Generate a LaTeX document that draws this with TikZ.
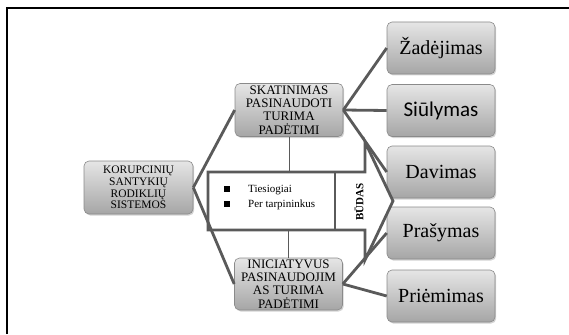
\documentclass[tikz,border=0pt]{standalone}
\usepackage{fontspec}
\setmainfont{Liberation Serif}
\newfontfamily\carl{Carlito}
\usetikzlibrary{shadows}
\definecolor{ln}{HTML}{5A5A5A}
\definecolor{bx}{HTML}{8A8A8A}
\begin{document}
\begin{tikzpicture}[x=1pt,y=-1pt,
  gbox/.style={draw=bx, line width=0.6pt, rounded corners=5pt,
    top color=black!10, bottom color=black!35,
    drop shadow={shadow xshift=1.2pt, shadow yshift=-1.5pt, opacity=0.35},
    align=center, inner sep=0pt, text=black},
  rbox/.style={gbox, minimum width=108pt, minimum height=52pt, font=\fontsize{20}{22}\selectfont},
  mbox/.style={gbox, minimum width=108pt, minimum height=53pt, font=\fontsize{13}{13.3}\selectfont},
  conn/.style={draw=ln, line width=2.8pt},
  thinln/.style={draw=ln, line width=1pt}]
\useasboundingbox (0,0) rectangle (569,334);
\draw[line width=1.3pt] (7,334) -- (7,8) -- (569,8);

% boxes
\node[gbox, minimum width=109pt, minimum height=53pt, font=\fontsize{11.5}{11.8}\selectfont] (kor) at (138.5,187.5) {KORUPCINIŲ\\SANTYKIŲ\\RODIKLIŲ\\SISTEMOS};
\node[mbox] (sk) at (289,110) {SKATINIMAS\\PASINAUDOTI\\TURIMA\\PADĖTIMI};
\node[mbox, minimum height=52pt] (ini) at (288.5,284) {INICIATYVUS\\PASINAUDOJIM\\AS TURIMA\\PADĖTIMI};

\node[rbox] (z) at (441,48) {Žadėjimas};
\node[rbox, font=\carl\fontsize{21}{23}\selectfont] (s) at (441,110.5) {Siūlymas};
\node[rbox] (d) at (441,172) {Davimas};
\node[rbox] (p) at (441,233) {Prašymas};
\node[rbox] (pr) at (441,296) {Priėmimas};

% arrow-shaped panel
\draw[conn, fill=white, line join=miter] (208,172) -- (365,172) -- (365,142) -- (393,201) -- (365,260) -- (365,230) -- (208,230) -- cycle;
\draw[conn] (335,172) -- (335,230);
\node[minimum width=127pt, minimum height=58pt, inner sep=0pt] (way) at (271.5,201) {};

\node[anchor=base west, inner sep=0pt, font=\fontsize{11}{13}\selectfont] (l1) at (224,192) {\rule{6pt}{6pt}\hspace{18pt}Tiesiogiai};
\node[anchor=base west, inner sep=0pt, font=\fontsize{11}{13}\selectfont] (l2) at (224,207) {\rule{6pt}{6pt}\hspace{18pt}Per tarpininkus};
\node[rotate=90, inner sep=0pt, font=\bfseries\fontsize{11}{12}\selectfont] (bud) at (359,202) {BŪDAS};

% connectors
\draw[conn] (kor.east) -- (sk.west);
\draw[conn] (kor.east) -- (ini.west);
\draw[conn] (sk.east) -- (z.west);
\draw[conn] (sk.east) -- (s.west);
\draw[conn] (sk.east) -- (d.west);
\draw[conn] (ini.east) -- (p.west);
\draw[conn] (ini.east) -- (pr.west);
\draw[thinln] (sk.south) -- (sk.south |- way.north);
\draw[thinln] (ini.north) -- (ini.north |- way.south);
\end{tikzpicture}
\end{document}
